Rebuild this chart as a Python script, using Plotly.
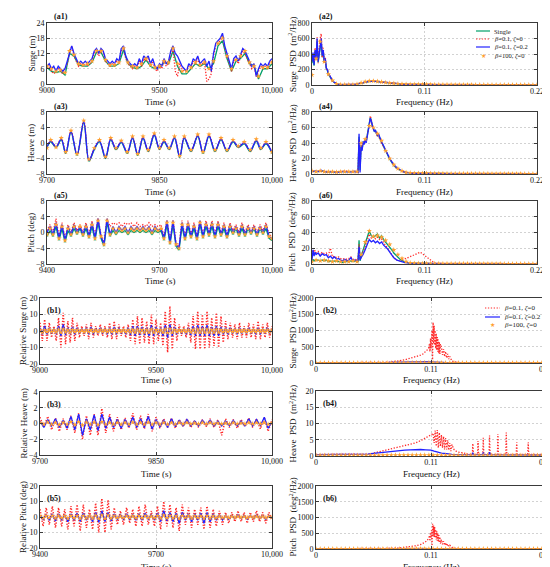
import plotly.graph_objects as go

W, H = 550, 567
FONT = "Liberation Serif"
GREEN = "#00a06a"
RED = "#ff2a2a"
BLUE = "#2222ff"
ORANGE = "#ffa030"
DOT = "1.3px,1.6px"

# ---------------- (a1) Surge time series ----------------
T_A1 = list(range(9000, 10001, 10))
T_A1_20 = list(range(9000, 10001, 20))
A1_BLUE = [7,8,6,7,5,7,6,5,6,9, 13,15,12,10,8,9,8,9,8,9, 10,13,14,12,14,13,10,9,8,9,
           8,10,9,14,15,11,9,8,7,8, 7,10,8,11,10,11,8,10,7,6, 8,7,10,8,9,13,15,12,11,9,
           7,6,5,8,7,10,9,11,8,9, 10,7,9,5,12,16,17,18,20,15, 12,9,6,10,11,9,12,14,13,11,
           9,7,8,3,6,8,7,8,7,9, 10]
A1_RED = [7,7,5,4,5,6,5,4,6,8, 12,15,11,9,7,8,7,8,7,8, 9,12,13,11,13,12,9,8,7,8,
          7,9,8,13,14,10,8,7,6,7, 6,9,7,10,9,10,7,9,6,5, 7,6,9,7,8,12,14,5,3,8,
          6,5,5,7,6,9,8,10,7,8, 9,1,2,4,11,15,16,17,19,14, 11,8,5,9,10,8,11,13,12,10,
          8,6,7,3,5,7,6,7,6,8, 9]
A1_GREEN = [6.5,5,4.5,5,3.5, 12,11,7.5,7,7, 8.5,12.5,12.5,9,7, 7,8,13.5,8,6.5,
            6,7,9.5,7,6, 6.5,8.5,8,13,7, 4,4,6,8,7, 8,6,8,15,17,
            10,5,9,10,12, 8,7,2,6,6, 8]
A1_ORANGE = [7,6,5,5.5,4.5, 13,11.5,8,7.5,8, 9,13,13,9.5,7.5, 7.5,8.5,14,8.5,7,
             6.5,8,10,7.5,6.5, 7,9,8.5,14,8, 5,5,6.5,8.5,7.5, 8.5,6,9,16,18,
             11,6,9.5,11,13, 8.5,7,3,6.5,6.5, 8.5]

# ---------------- (a3) Heave time series ----------------
T_A3 = [9700,9705,9712,9719,9725,9732,9740,9749,9756,9763,9770,9778,9785,9792,9799,
        9807,9814,9821,9828,9835,9843,9850,9856,9863,9870,9877,9883,9892,9901,9908,
        9916,9924,9932,9940,9948,9955,9963,9971,9979,9985,9992,10000]
A3_BLUE = [-1,0.5,-1,1,-2.5,3,-3,5.5,-4.5,-1.5,0.5,-3.8,1,-1.5,0.3,-2.5,1.4,-3,1.4,-2,
           2.2,-1.5,0.5,-1.5,1.4,-3.5,1.4,-2,1.9,-2.5,1.9,-2,1,-2,0.5,-1,0,-2,0.7,-1.5,0,-2.5]
A3_GREEN = [-1.2,0.3,-1.2,0.8,-2.7,2.8,-3.2,5.2,-4.7,-1.7,0.3,-4,0.8,-1.7,0.1,-2.7,1.2,-3.2,1.2,-2.2,
            2,-1.7,0.3,-1.7,1.2,-3.7,1.2,-2.2,1.7,-2.7,1.7,-2.2,0.8,-2.2,0.3,-1.2,-0.2,-2.2,0.5,-1.7,-0.2,-2.7]
A3_RED = [-0.9,0.6,-0.9,1.1,-2.4,3.1,-2.9,5.7,-4.4,-1.4,0.6,-3.7,1.1,-1.4,0.4,-2.4,1.5,-2.9,1.5,-1.9,
          2.3,-1.4,0.6,-1.4,1.5,-3.4,1.5,-1.9,2,-2.4,2,-1.9,1.1,-1.9,0.6,-0.9,0.1,-1.9,0.8,-1.4,0.1,-2.4]
A3_ORANGE = [-1.3,0.8,-1.1,1.3,-2.3,3.2,-2.8,5.8,-4.2,-1.3,0.8,-3.5,1.3,-1.3,0.6,-2.3,1.7,-2.8,1.7,-1.8,
             2.5,-1.3,0.8,-1.3,1.7,-3.3,1.7,-1.8,2.2,-2.3,2.2,-1.8,1.3,-1.8,0.8,-0.8,0.3,-1.8,1,-1.3,0.3,-2.3]

# ---------------- (a5) Pitch time series ----------------
T_A5 = list(range(9400, 10001, 8))
A5_BLUE = [0,1.5,-0.5,2.5,-1.5,2,-2,1.5,-0.5,2, 0,1.5,-0.5,2,-1,2.5,-1.5,3.5,-1,-3,
           3.5,-0.5,1.5,0,1.5,0.5,1.5,0,1.5,0.5, 1.5,0.5,1.5,0.5,1.5,0,1.5,0.5,1,-1.5,
           3,-2.5,3,-3,-4,2.5,-1.5,2.5,-1,2, -1.5,3,-1,2.5,-0.5,2.5,-1,2.5,-0.5,2,
           -1,2,0,1.5,-0.5,2,-0.5,1.5,0,1.5, -0.5,1.5,0,2,-1,-1.5]
A5_RED = [0.5,2,0,3.5,-1,2.5,-1.5,2,0,2.5, 0.5,2,0,2.5,-0.5,3,-1,3.5,-0.5,-2.5,
          3.5,1.5,2.5,2,2.5,1.5,2.5,2,2.5,1.5, 2.5,1.5,2,1.5,2.5,1.5,2,1.5,2,-1,
          3,-2,3,-2.5,-3.5,3,-1,3,-0.5,2.5, -1,3,-0.5,3,0,3,-0.5,3,0,2.5,
          -0.5,2.5,0.5,2,0,2.5,0,2,0.5,2, 0,2,0.5,2.5,-0.5,-1]
A5_GREEN = [-1,0.5,-1,1.5,-2,1,-2.5,0.5,-1,1, -0.5,1,-1,1,-1.5,1.5,-2,2.5,-1.5,-3.5,
            2.5,-1,0.5,-0.5,0.5,0,0.5,-0.5,0.5,0, 0.5,0,0.5,0,0.5,-0.5,0.5,0,0.5,-2,
            2,-3,2,-3.5,-4.5,1.5,-2,1.5,-1.5,1, -2,2,-1.5,1.5,-1,1.5,-1.5,1.5,-1,1,
            -1.5,1,-0.5,1,-1,1,-1,1,-0.5,1, -1,1,-0.5,1,-1.5,-2]
A5_ORANGE = [-0.5,1,-0.5,2,-1.5,1.5,-2,1,-0.5,1.5, 0,1.5,-0.5,1.5,-1,2,-1.5,3,-1,-3,
             3,-0.5,1,0,1,0.5,1,0,1,0.5, 1,0.5,1,0.5,1,0,1,0.5,1,-1.5,
             2.5,-2.5,2.5,-3,-4,2,-1.5,2,-1,1.5, -1.5,2.5,-1,2,-0.5,2,-1,2,-0.5,1.5,
             -1,1.5,0,1,-0.5,1.5,-0.5,1,0,1, -0.5,1,0,1.5,-1,-1.5]

# ---------------- PSD marker grid ----------------
F_MARK = [round(i * 0.004, 3) for i in range(56)]

# ---------------- (a2) Surge PSD ----------------
A2_F = [0,0.001,0.002,0.003,0.004,0.005,0.006,0.007,0.008,0.009,0.010,0.011,0.012,0.013,0.014,0.015,0.016,
        0.018,0.020,0.022,0.025,0.028,
        0.032,0.036,0.040,0.043,0.046,0.049,0.052,0.055,0.058,0.061,0.064,0.067,0.070,
        0.075,0.080,0.085,0.090,0.095,0.100,0.105,0.110,0.115,0.120,
        0.130,0.140,0.150,0.160,0.170,0.180,0.190,0.200,0.210,0.220]
A2_BLUE = [300,420,260,450,350,600,300,420,560,600,380,450,300,340,220,200,150,
           100,60,30,12,6, 5,5,6,10,20,30,40,48,52,50,45,40,35,
           27,20,15,11,9,8,8,10,7,6, 5,4,4,3,3,3,3,3,3,3]
A2_RED = [350,380,300,480,320,620,280,450,600,660,350,480,280,360,200,210,140,
          110,55,35,10,5, 4,4,5,8,18,28,38,46,50,48,43,38,33,
          25,18,14,10,8,8,10,15,8,5, 4,4,3,3,3,3,3,3,3,3]
A2_GREEN = [280,400,250,430,330,570,290,400,530,570,360,430,290,320,210,190,140,
            95,55,28,10,5, 4,4,5,9,18,28,38,45,50,48,43,38,33,
            25,18,14,10,8,7,7,9,6,5, 4,3,3,3,3,3,3,3,3,3]
A2_ORANGE = [130,340,560,300,140,60,15,6,5,5,6,12,28,42,52,52,47,40,32,26,21,16,13,10,9,8,8,9,9,7,6,
             6,5,5,5,4,4,4,4,4,3,3,3,3,3,3,3,3,3,3,3,3,3,3,3,3]

# ---------------- (a4) Heave PSD ----------------
A4_F = [0,0.003,0.006,0.009,0.012,0.015,0.018,0.021,0.024,0.027,0.030,0.033,0.036,0.039,0.042,0.045,
        0.046,0.047,0.048,0.049,0.050,0.051,0.052,0.053,0.054,0.055,0.056,0.057,0.058,0.059,0.060,
        0.061,0.062,0.063,0.064,0.065,0.066,0.067,0.068,
        0.070,0.072,0.074,0.076,0.078,0.080,
        0.083,0.086,0.089,0.092,0.096,0.100,
        0.110,0.120,0.140,0.160,0.180,0.200,0.220]
A4_BLUE = [3,4,3,5,3,3,2.5,3,2,3,3.5,3,2.5,3,3.5,2,
           52,2,35,30,42,38,45,40,48,55,60,72,68,62,58,55,57,52,50,52,47,45,42,
           36,30,25,20,16,12, 8,5,3,2,1.5,1, 0.8,0.5,0.5,0.5,0.4,0.3,0.3]
A4_RED = [4,3,4,4,2.5,3,3,2,3,2.5,3,4,3,2.5,3,2.5,
          45,10,38,33,40,42,43,44,50,58,62,75,70,60,60,56,55,54,48,50,46,44,40,
          35,29,24,19,15,11, 7,4.5,3,2,1.5,1, 1,0.5,0.5,0.5,0.5,0.3,0.3]
A4_GREEN = [3.5,3.5,3,4,3,2.5,3,2.5,2.5,3,3,3.5,3,3,3,2.5,
            48,5,37,32,41,40,44,42,49,56,61,73,69,61,59,55,56,53,49,51,46,44,41,
            35,29,24,19,15,11, 7,4.5,3,2,1.5,1, 0.8,0.5,0.5,0.4,0.4,0.3,0.3]
A4_ORANGE = [4,3,4,3,3,3,2.5,3,3,3,3,3,40,45,62,60,52,43,30,20,12,7,4,2,1.5,1,
             1,1,1,0.8,0.8,0.7,0.7,0.6,0.6,0.6,0.5,0.5,0.5,0.5,0.5,0.5,0.5,0.5,0.4,0.4,
             0.4,0.4,0.4,0.4,0.4,0.4,0.3,0.3,0.3,0.3]

# ---------------- (a6) Pitch PSD ----------------
A6_F = [0,0.001,0.002,0.003,0.004,
        0.006,0.008,0.010,0.012,0.014,0.016,0.018,0.020,0.022,0.024,0.026,0.028,0.030,0.032,0.034,0.036,0.038,0.040,0.042,0.044,
        0.045,0.046,0.047,0.048,
        0.050,0.052,0.054,0.056,0.058,0.060,0.062,0.064,0.066,0.068,0.070,0.072,0.074,0.076,0.078,0.080,
        0.083,0.086,0.090,0.095,0.100,
        0.103,0.106,0.108,0.110,0.112,0.114,0.117,0.120,
        0.130,0.150,0.170,0.190,0.220]
A6_BLUE = [5,18,10,15,12,
           14,10,13,11,12,8,10,7,9,6,7,5,4,6,4,5,8,4,5,4,
           4,22,5,8,
           12,18,25,31,28,30,27,29,26,28,24,22,19,15,11,8,
           5,3.5,2,1.2,1,
           0.8,0.7,0.7,0.6,0.6,0.5,0.5,0.5,
           0.4,0.4,0.3,0.3,0.3]
A6_RED = [8,20,15,17,14,
          16,12,15,13,14,11,20,9,10,8,9,7,6,7,6,7,9,6,6,5,
          5,25,6,9,
          15,22,30,38,33,35,32,34,31,32,27,24,20,16,12,8,
          5,4,6,9,12,
          14,15,13,11,9,6,3,1,
          0.5,0.4,0.3,0.3,0.3]
A6_GREEN = [2,6,4,5,5,
            5,4,5,4,5,3,4,3,4,3,3,3,2,3,3,3,4,3,4,3,
            3,30,4,10,
            18,26,35,42,36,34,36,38,33,36,31,28,25,22,18,14,
            10,6,3,1.5,1,
            0.8,0.7,0.7,0.6,0.6,0.5,0.5,0.5,
            0.4,0.4,0.3,0.3,0.3]
A6_ORANGE = [3,5,4,5,4,3,4,3,3,3,4,3,12,28,42,35,36,34,30,25,18,12,7,3,1.5,1,
             0.8,0.7,0.7,0.6,0.6,0.6,0.5,0.5,0.5,0.5,0.5,0.5,0.5,0.4,0.4,0.4,0.4,0.4,0.4,0.4,
             0.4,0.3,0.3,0.3,0.3,0.3,0.3,0.3,0.3,0.3]

# ---------------- (b1) Relative surge ----------------
T_B1 = list(range(9000, 10001, 10))
B1_RED = [5,-6,7,-6,5,-4,3,-6,8,-10, 11,-8,6,-7,8,-6,5,-4,3,-3, 4,-5,5,-4,3,-3,4,-3,3,-4,
          5,-5,6,-5,4,-3,3,-4,4,-6, 7,-8,9,-8,8,-7,6,-8,10,-8, 7,-6,5,-9,12,-13,15,-11,8,-6,
          4,-3,3,-4,5,-7,9,-11,12,-11, 10,-11,12,-10,8,-9,11,-10,9,-7, 6,-5,5,-4,4,-5,5,-4,3,-4,
          5,-4,4,-5,6,-5,4,-4,5,-4, 3]
B1_BLUE = [2,-2,3,-2,2,-1.5,1.5,-2,3,-3, 4,-2.5,2,-2,2.5,-2,2,-1.5,1.5,-1.5, 2,-2,2.5,-2,1.5,-1.5,2,-1.5,1.5,-2,
           2,-2,2.5,-2,2,-1.5,1.5,-2,2,-2.5, 3,-3,3,-2.5,2.5,-2.5,2,-3,3.5,-3, 2.5,-2,2,-3,3.5,-4,4,-3,2.5,-2,
           1.5,-1.5,1.5,-2,2,-2.5,3,-3,3.5,-3, 3,-3,3.5,-3,2.5,-3,3,-3,2.5,-2, 2,-2,2,-1.5,1.5,-2,2,-1.5,1.5,-1.5,
           2,-1.5,1.5,-2,2,-2,1.5,-1.5,2,-1.5, 1]
B1_ORANGE = [0.5,-0.8,0.6,-0.5,0.8,-0.6,0.5,-0.7,0.9,-0.8, 1,-0.7,0.6,-0.8,0.7,-0.5,0.6,-0.5,0.4,-0.6,
             0.5,-0.6,0.7,-0.5,0.4,-0.5,0.6,-0.4,0.5,-0.6, 0.6,-0.5,0.7,-0.6,0.5,-0.4,0.5,-0.6,0.6,-0.7,
             0.8,-0.8,0.9,-0.7,0.7,-0.8,0.6,-0.8,1,-0.9, 0.7,-0.6,0.6,-0.8,1,-1.1,1.2,-0.9,0.7,-0.6,
             0.5,-0.4,0.5,-0.6,0.6,-0.7,0.8,-0.9,1,-0.9, 0.9,-0.9,1,-0.8,0.7,-0.8,0.9,-0.8,0.7,-0.6,
             0.6,-0.5,0.6,-0.5,0.5,-0.6,0.5,-0.4,0.5,-0.5, 0.6,-0.5,0.5,-0.6,0.6,-0.5,0.5,-0.5,0.6,-0.5, 0.4]

# ---------------- (b3) Relative heave ----------------
T_B3 = list(range(9700, 10001, 5))
B3_RED = [0.8,-0.5,0.9,-0.8,0.7,-1,0.6,-0.8,1,-1.2, 1.3,-2,1,-1.5,1.2,-1.5,1.9,-1.2,1.2,-1,
          0.8,-0.8,0.7,-0.6,1.3,-0.8,1,-0.7,1.2,-1, 0.8,-0.6,0.6,-0.5,0.7,-0.6,0.5,-0.4,0.6,-0.5,
          0.4,-0.5,0.5,-0.4,0.6,-0.5,0.5,-1.5,0.6,-0.5, 0.5,-0.6,0.5,-0.4,0.7,-0.5,0.6,-0.7,0.8,-1, 0.5]
B3_BLUE = [0.3,-0.5,0.5,-0.3,0.6,-0.5,0.4,-0.6,0.9,-0.8, 1.2,-1.5,0.6,-0.8,1.1,-0.9,1.2,-0.6,0.8,-0.5,
           0.5,-0.6,0.5,-0.4,0.8,-0.5,0.6,-0.5,0.9,-0.7, 0.5,-0.4,0.4,-0.5,0.6,-0.4,0.4,-0.3,0.5,-0.3,
           0.3,-0.3,0.4,-0.2,0.4,-0.3,0.3,-0.3,0.3,-0.3, 0.4,-0.3,0.3,-0.3,0.6,-0.3,0.5,-0.3,0.8,-0.6, 0.2]
B3_ORANGE = [0.1,-0.1,0.15,-0.1,0.1,-0.15,0.1,-0.1,0.2,-0.15, 0.2,-0.2,0.15,-0.1,0.15,-0.15,0.2,-0.1,0.1,-0.1,
             0.1,-0.1,0.1,-0.1,0.15,-0.1,0.1,-0.1,0.15,-0.1, 0.1,-0.1,0.1,-0.1,0.1,-0.1,0.1,-0.05,0.1,-0.05,
             0.05,-0.05,0.1,-0.05,0.1,-0.05,0.05,-0.05,0.05,-0.05, 0.1,-0.05,0.05,-0.05,0.1,-0.05,0.1,-0.05,0.1,-0.1, 0.05]

# ---------------- (b5) Relative pitch ----------------
T_B5 = list(range(9400, 10001, 8))
B5_RED = [5,-6,6,-5,7,-7,6,-6,5,-8, 7,-6,8,-9,8,-7,5,-8,9,-10, 12,-10,11,-8,6,-5,4,-5,6,-4,
          5,-6,7,-6,8,-5,4,-6,7,-8, 10,-6,8,-7,6,-9,8,-5,6,-7, 5,-5,6,-8,7,-7,5,-6,4,-5,
          3,-4,3,-3,4,-3,3,-4,3,-3, 4,-3,3,-4,3,-2]
B5_BLUE = [1,-1.5,1.5,-2,2,-2.5,2,-2,1.5,-3, 2,-2,2.5,-3,2.5,-2,1.5,-3,3,-3.5, 4,-3,3,-2.5,2,-1.5,1.5,-1.5,2,-1.5,
           1.5,-2,2,-2,2.5,-1.5,1.5,-2,2.5,-3, 4,-2.5,3,-3,2.5,-4,3,-2,2,-3, 2,-2,2.5,-4,3,-3,2,-2,1.5,-2,
           1,-1.5,1,-1,1.5,-1,1,-1.5,1,-1, 1.5,-1,1,-1.5,1,-1]
B5_ORANGE = [0.5,-0.6,0.7,-0.5,0.8,-0.7,0.6,-0.6,0.5,-0.8, 0.7,-0.6,0.8,-0.9,0.8,-0.7,0.5,-0.8,0.9,-1,
             1.1,-1,1,-0.8,0.6,-0.5,0.4,-0.5,0.6,-0.4, 0.5,-0.6,0.7,-0.6,0.8,-0.5,0.4,-0.6,0.7,-0.8,
             1,-0.6,0.8,-0.7,0.6,-0.9,0.8,-0.5,0.6,-0.7, 0.5,-0.5,0.6,-0.8,0.7,-0.7,0.5,-0.6,0.4,-0.5,
             0.3,-0.4,0.3,-0.3,0.4,-0.3,0.3,-0.4,0.3,-0.3, 0.4,-0.3,0.3,-0.4,0.3,-0.2]

# ---------------- (b2) Surge PSD relative ----------------
B2_F = [0,0.01,0.02,0.03,0.04,0.05,0.06,
        0.065,0.07,0.075,0.08,0.085,0.09,0.095,0.1,
        0.102,0.104,0.106,0.107,0.108,
        0.1085,0.109,0.1095,0.11,0.1105,0.111,0.1115,0.112,0.1125,0.113,0.1135,0.114,0.1145,0.115,0.1155,0.116,
        0.1165,0.117,0.1175,0.118,0.1185,0.119,
        0.12,0.121,0.122,0.123,0.124,0.125,0.126,0.127,0.128,
        0.13,0.132,0.135,0.14,0.15,0.16,0.18,0.2,0.22]
B2_RED = [5,5,5,6,8,10,15,
          20,30,45,70,100,140,190,240,
          270,320,380,420,480,
          600,350,750,450,900,1000,100,1250,600,1150,550,1000,450,900,400,800,350,720,300,650,280,580,
          500,250,430,200,350,150,280,120,200,
          60,40,20,8,5,4,3,3,3]
B2_BF = [0,0.02,0.04,0.06,0.07,0.08,0.09,0.1,0.105,0.11,0.115,0.12,0.13,0.15,0.18,0.22]
B2_BLUE = [3,3,3,5,15,30,45,50,45,35,25,12,5,3,3,3]
B2_ORANGE = [3,3,3,3,3,3,3,3,3,3,3,3,3,3,3, 4,4,5,6,8,10,12,14,15,16,16,15,14,12,10,8,6,5,4,4,
             3,3,3,3,3,3,3,3,3,3,3,3,3,3,3,3,3,3,3,3,3]

# ---------------- (b4) Heave PSD relative ----------------
B4_F = [0,0.01,0.02,0.03,0.04,0.045,
        0.05,0.055,0.06,0.065,0.07,0.075,0.08,0.085,0.09,0.095,0.1,
        0.103,0.106,0.108,0.11,0.112,
        0.113,0.114,0.115,0.116,0.117,0.118,0.119,0.12,0.121,0.122,0.123,0.124,0.125,0.126,0.127,0.128,0.129,0.13,
        0.132,0.134,0.136,0.14,0.145,
        0.1495,0.15,0.1505,0.1545,0.155,0.1555,0.1595,0.16,0.1605,0.1655,0.166,0.1665,
        0.1735,0.174,0.1745,0.1815,0.182,0.1825,0.1915,0.192,0.1925,0.2025,0.203,0.2035,
        0.21,0.22]
B4_RED = [0.5,0.5,0.5,0.5,0.5,0.5,
          0.6,0.9,1.3,1.6,2,2.3,2.7,3.1,3.5,4,4.7,
          5.2,5.8,6.2,6.5,7,
          4,7.8,3,8,2.5,7.2,3,6.5,2.5,6,2,5.5,2,4.8,1.8,4,1.5,3.5,
          2,1.5,1.2,1,0.6,
          0.5,3.8,0.5,0.5,4.6,0.5,0.5,5.6,0.5,0.5,6.3,0.5,
          0.5,6.8,0.5,0.5,7.2,0.5,0.5,4.2,0.5,0.5,4.2,0.5,
          0.5,0.5]
B4_BF = [0,0.02,0.04,0.045,0.05,0.055,0.06,0.065,0.07,0.075,0.08,0.085,0.09,0.095,0.1,0.105,0.11,
         0.113,0.116,0.12,0.125,0.13,0.14,0.1495,0.15,0.1505,0.1595,0.16,0.1605,0.1655,0.166,0.1665,0.22]
B4_BLUE = [0.4,0.4,0.4,0.5,0.6,0.8,1,1.2,1.4,1.6,1.7,1.8,1.9,2,2,1.9,1.8,
           1.5,1.2,0.9,0.7,0.5,0.4,0.4,1,0.4,0.4,1.1,0.4,0.4,1.2,0.4,0.3]
B4_ORANGE = [0.2,0.2,0.2,0.2,0.2,0.2,0.2,0.2,0.2,0.2,0.2,0.2,0.2,0.2,0.2,0.2,0.25,0.25,0.3,0.3,
             0.3,0.3,0.3,0.3,0.3,0.3,0.3,0.3,0.25,0.25,0.2,0.2,0.2,0.2,0.2,0.2,0.2,0.2,0.2,0.2,
             0.2,0.2,0.2,0.2,0.2,0.2,0.2,0.2,0.2,0.2,0.2,0.2,0.2,0.2,0.2,0.2]

# ---------------- (b6) Pitch PSD relative ----------------
B6_F = B2_F
B6_RED = [3,3,3,4,5,6,8,
          12,18,25,35,50,70,100,140,
          170,210,260,300,350,
          430,250,520,350,600,100,800,400,750,380,700,350,620,300,560,260,500,230,440,200,380,170,
          300,150,250,120,200,100,160,80,120,
          50,30,15,6,4,3,3,3,3]
B6_BF = [0,0.04,0.07,0.09,0.1,0.11,0.12,0.13,0.16,0.22]
B6_BLUE = [2,2,5,12,18,20,12,5,2,2]
B6_ORANGE = [3,3,3,3,3,3,3,3,3,3,3,3,3,3,3, 3,3,4,4,5,6,7,8,9,10,10,9,8,7,6,5,4,4,3,3,
             3,3,3,3,3,3,3,3,3,3,3,3,3,3,3,3,3,3,3,3,3]

# ---------------- axis/tick labels ----------------
TIME_TICKS = {
    'a1': ([9000, 9500, 10000], ['9000', '9500', '10,000']),
    'a3': ([9700, 9850, 10000], ['9700', '9850', '10,000']),
    'a5': ([9400, 9700, 10000], ['9400', '9700', '10,000']),
}
FREQ_TICKS = ([0, 0.11, 0.22], ['0', '0.11', '0.22'])

LEFT_A = (39, 264)
RIGHT_A = (304, 529)
LEFT_B = (32, 264)
RIGHT_B = (308, 538)

# name, axis index, xpx, ypx, xrange, ticks, yrange, ytickvals, ytitle, xtitle, ytitle_x, xtitle_y
PANELS = [
    ('a1', 1, LEFT_A, (15, 76), [9000, 10000], TIME_TICKS['a1'], [0, 24], [0, 6, 12, 18, 24], 'Surge (m)', 'Time (s)', 23, 94),
    ('a2', 2, RIGHT_A, (15, 77), [0, 0.22], FREQ_TICKS, [0, 800], [0, 200, 400, 600, 800], 'Surge\u00a0\u00a0PSD\u00a0\u00a0(m<sup>2</sup>/Hz)', 'Frequency (Hz)', 284, 94),
    ('a3', 3, LEFT_A, (104, 166), [9700, 10000], TIME_TICKS['a3'], [-8, 8], [-8, -4, 0, 4, 8], 'Heave (m)', 'Time (s)', 23, 184),
    ('a4', 4, RIGHT_A, (104, 166), [0, 0.22], FREQ_TICKS, [0, 80], [0, 20, 40, 60, 80], 'Heave\u00a0\u00a0PSD\u00a0\u00a0(m<sup>2</sup>/Hz)', 'Frequency (Hz)', 284, 184),
    ('a5', 5, LEFT_A, (193, 256), [9400, 10000], TIME_TICKS['a5'], [-8, 8], [-8, -4, 0, 4, 8], 'Pitch (deg)', 'Time (s)', 23, 273),
    ('a6', 6, RIGHT_A, (193, 256), [0, 0.22], FREQ_TICKS, [0, 80], [0, 20, 40, 60, 80], 'Pitch\u00a0\u00a0PSD\u00a0\u00a0(deg<sup>2</sup>/Hz)', 'Frequency (Hz)', 284, 273),
    ('b1', 7, LEFT_B, (290, 356), [9000, 10000], TIME_TICKS['a1'], [-20, 20], [-20, -10, 0, 10, 20], 'Relative Surge (m)', 'Time (s)', 15, 372),
    ('b2', 8, RIGHT_B, (290, 355), [0, 0.22], FREQ_TICKS, [0, 2000], [0, 500, 1000, 1500, 2000], 'Surge\u00a0\u00a0PSD\u00a0\u00a0(m<sup>2</sup>/Hz)', 'Frequency (Hz)', 284, 372),
    ('b3', 9, LEFT_B, (384, 447), [9700, 10000], TIME_TICKS['a3'], [-4, 4], [-4, -2, 0, 2, 4], 'Relative Heave (m)', 'Time (s)', 15, 466),
    ('b4', 10, RIGHT_B, (383, 448), [0, 0.22], FREQ_TICKS, [0, 20], [0, 5, 10, 15, 20], 'Heave\u00a0\u00a0PSD\u00a0\u00a0(m<sup>2</sup>/Hz)', 'Frequency (Hz)', 284, 466),
    ('b5', 11, LEFT_B, (478, 540), [9400, 10000], TIME_TICKS['a5'], [-20, 20], [-20, -10, 0, 10, 20], 'Relative Pitch (deg)', 'Time (s)', 15, 559),
    ('b6', 12, RIGHT_B, (478, 541), [0, 0.22], FREQ_TICKS, [0, 2000], [0, 500, 1000, 1500, 2000], 'Pitch\u00a0\u00a0PSD\u00a0\u00a0(deg<sup>2</sup>/Hz)', 'Frequency (Hz)', 284, 559),
]

fig = go.Figure()
layout = {}
annotations = []
shapes = []

def px(xp):
    return xp / W

def py(yp):
    return 1 - yp / H

AXREF = {}
for name, n, xpx, ypx, xr, (xtv, xtt), yr, ytv, ytitle, xtitle, ytx, xty in PANELS:
    sx = '' if n == 1 else str(n)
    AXREF[name] = ('x' + sx, 'y' + sx)
    common = dict(showline=True, linecolor='#3a3a3a', linewidth=0.8, mirror='ticks',
                  ticks='inside', ticklen=3, tickwidth=0.7, tickcolor='#3a3a3a',
                  showgrid=True, gridcolor='#d2d2d2', griddash='2px,2px', gridwidth=0.7,
                  zeroline=False, tickfont=dict(family=FONT, size=8, color='#111111'),
                  automargin=False, ticklabeloverflow='allow')
    layout['xaxis' + sx] = dict(common, domain=[px(xpx[0]), px(xpx[1])], range=xr,
                                tickvals=xtv, ticktext=xtt, anchor='y' + sx, ticklabelstandoff=-2)
    layout['yaxis' + sx] = dict(common, domain=[py(ypx[1]), py(ypx[0])], range=yr,
                                tickvals=ytv, anchor='x' + sx)
    annotations.append(dict(xref='paper', yref='paper', x=px((xpx[0] + xpx[1]) / 2), y=py(xty),
                            text=xtitle, showarrow=False, xanchor='center', yanchor='middle',
                            font=dict(family=FONT, size=9, color='#111111')))
    annotations.append(dict(xref='paper', yref='paper', x=px(ytx), y=py((ypx[0] + ypx[1]) / 2),
                            text=ytitle, showarrow=False, textangle=-90, xanchor='center', yanchor='middle',
                            font=dict(family=FONT, size=9, color='#111111')))
    # panel label
    if name.startswith('a'):
        lx, ly = xpx[0] + 5, ypx[0] - 6
    else:
        lx, ly = xpx[0] + 5, ypx[0] + 12
    annotations.append(dict(xref='paper', yref='paper', x=px(lx), y=py(ly), text='<b>(' + name + ')</b>',
                            showarrow=False, xanchor='left', yanchor='middle',
                            font=dict(family=FONT, size=8, color='#111111')))


def line(name, x, y, color, dash='solid', width=1.3, shape='linear'):
    xa, ya = AXREF[name]
    fig.add_trace(go.Scatter(x=x, y=y, mode='lines', xaxis=xa, yaxis=ya, showlegend=False,
                             line=dict(color=color, width=width, dash=dash, shape=shape)))


def marks(name, x, y, size=4):
    xa, ya = AXREF[name]
    fig.add_trace(go.Scatter(x=x, y=y, mode='markers', xaxis=xa, yaxis=ya, showlegend=False,
                             marker=dict(symbol='star', size=size, color=ORANGE, line=dict(width=0))))

# a1
line('a1', T_A1_20, A1_GREEN, GREEN)
line('a1', T_A1, A1_RED, RED, dash=DOT)
line('a1', T_A1, A1_BLUE, BLUE)
marks('a1', T_A1_20, A1_ORANGE)
# a3
line('a3', T_A3, A3_GREEN, GREEN, shape='spline')
line('a3', T_A3, A3_RED, RED, dash=DOT, shape='spline')
line('a3', T_A3, A3_BLUE, BLUE, shape='spline')
marks('a3', T_A3, A3_ORANGE)
# a5
line('a5', T_A5, A5_GREEN, GREEN)
line('a5', T_A5, A5_RED, RED, dash=DOT)
line('a5', T_A5, A5_BLUE, BLUE)
marks('a5', T_A5, A5_ORANGE)
# a2
line('a2', A2_F, A2_GREEN, GREEN)
line('a2', A2_F, A2_RED, RED, dash=DOT)
line('a2', A2_F, A2_BLUE, BLUE)
marks('a2', F_MARK, A2_ORANGE)
# a4
line('a4', A4_F, A4_GREEN, GREEN)
line('a4', A4_F, A4_RED, RED, dash=DOT)
line('a4', A4_F, A4_BLUE, BLUE)
marks('a4', F_MARK, A4_ORANGE)
# a6
line('a6', A6_F, A6_GREEN, GREEN)
line('a6', A6_F, A6_RED, RED, dash=DOT)
line('a6', A6_F, A6_BLUE, BLUE)
marks('a6', F_MARK, A6_ORANGE)
# b1
line('b1', T_B1, B1_RED, RED, dash=DOT, width=1.5)
line('b1', T_B1, B1_BLUE, BLUE)
marks('b1', T_B1, B1_ORANGE)
# b3
line('b3', T_B3, B3_RED, RED, dash=DOT, width=1.5)
line('b3', T_B3, B3_BLUE, BLUE)
marks('b3', T_B3, B3_ORANGE)
# b5
line('b5', T_B5, B5_RED, RED, dash=DOT, width=1.5)
line('b5', T_B5, B5_BLUE, BLUE)
marks('b5', T_B5, B5_ORANGE)
# b2
line('b2', B2_F, B2_RED, RED, dash=DOT, width=1.3)
line('b2', B2_BF, B2_BLUE, BLUE)
marks('b2', F_MARK, B2_ORANGE)
# b4
line('b4', B4_F, B4_RED, RED, dash=DOT, width=1.3)
line('b4', B4_BF, B4_BLUE, BLUE)
marks('b4', F_MARK, B4_ORANGE)
# b6
line('b6', B6_F, B6_RED, RED, dash=DOT, width=1.3)
line('b6', B6_BF, B6_BLUE, BLUE)
marks('b6', F_MARK, B6_ORANGE)

# ---------------- legends (drawn in paper space) ----------------
LEG_A = [('Single', GREEN, 'solid'),
         ('<i>β</i>=0.1,\u00a0<i>ζ</i>=0', RED, DOT),
         ('<i>β</i>=0.1,\u00a0<i>ζ</i>=0.2', BLUE, 'solid'),
         ('<i>β</i>=100,\u00a0<i>ζ</i>=0', ORANGE, 'marker')]
LEG_B = LEG_A[1:]

def draw_legend(items, x0, x1, rows, fsize):
    for (label, color, style), yy in zip(items, rows):
        if style == 'marker':
            annotations.append(dict(xref='paper', yref='paper', x=px((x0 + x1) / 2), y=py(yy),
                                    text='★', showarrow=False, xanchor='center', yanchor='middle',
                                    font=dict(size=6, color=color)))
        else:
            shapes.append(dict(type='line', xref='paper', yref='paper', x0=px(x0), x1=px(x1),
                               y0=py(yy), y1=py(yy), line=dict(color=color, width=1.2, dash=style)))
        annotations.append(dict(xref='paper', yref='paper', x=px(x1 + 1.5), y=py(yy), text=label,
                                showarrow=False, xanchor='left', yanchor='middle',
                                font=dict(family=FONT, size=fsize, color='#222222')))

draw_legend(LEG_A, 468, 482, [23, 31, 39, 47.5], 6.5)
draw_legend(LEG_B, 477, 492, [300, 309, 317], 7)

fig.update_layout(width=W, height=H, margin=dict(l=0, r=0, t=0, b=0), autosize=False,
                  paper_bgcolor='white', plot_bgcolor='white', showlegend=False,
                  annotations=annotations, shapes=shapes, **layout)

fig.write_html("out.html")
